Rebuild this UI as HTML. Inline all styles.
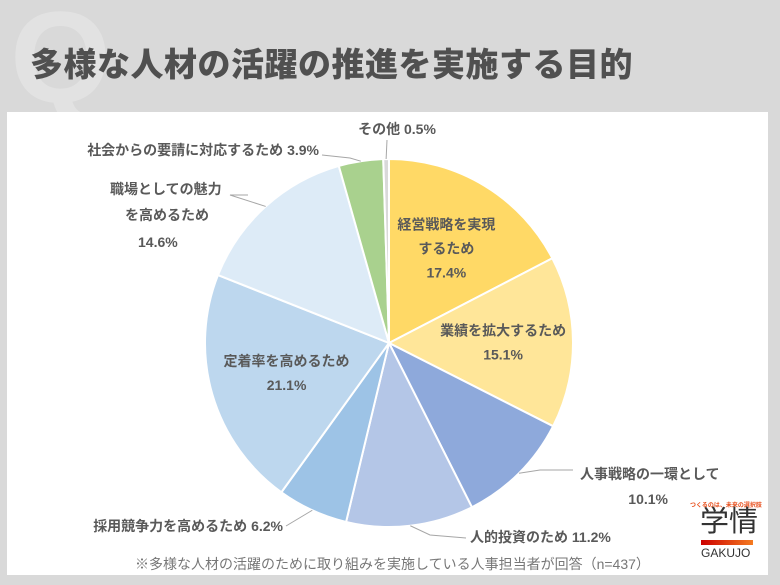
<!DOCTYPE html>
<html><head><meta charset="utf-8"><style>
body{margin:0;width:780px;height:585px;background:#d9d9d9;overflow:hidden;font-family:"Liberation Sans","Noto Sans CJK JP",sans-serif;position:relative}
.q{position:absolute;left:10px;top:-8px;font-size:130px;font-weight:bold;color:#e2e2e2;line-height:1}
.title{position:absolute;left:30px;top:38px;font-size:33px;font-weight:900;color:#505050;letter-spacing:0.5px}
.panel{position:absolute;left:7px;top:112px;width:761px;height:463px;background:#fff}
</style></head><body>
<div class="q">Q</div>
<div class="title">多様な人材の活躍の推進を実施する目的</div>
<div class="panel"></div>
<svg id="c" width="780" height="585" style="position:absolute;left:0;top:0"></svg>
<div style="position:absolute;left:690px;top:500px;font-size:6px;color:#e8501e;font-weight:bold">つくるのは、未来の選択肢</div>
<div style="position:absolute;left:700px;top:505px;font-size:29px;line-height:34px;color:#333">学情</div>
<div style="position:absolute;left:701px;top:540px;width:52px;height:5px;background:linear-gradient(90deg,#c00,#f47b20)"></div>
<div style="position:absolute;left:701px;top:546px;font-size:12px;color:#333">GAKUJO</div>
<div style="position:absolute;left:135px;top:554px;font-size:14px;color:#777">※多様な人材の活躍のために取り組みを実施している人事担当者が回答（n=437）</div>
<script>
const labels=["経営戦略を実現|するため","業績を拡大するため","人事戦略の一環として","人的投資のため","採用競争力を高めるため","定着率を高めるため","職場としての魅力|を高めるため","社会からの要請に対応するため","その他"];
const values=[17.4,15.1,10.1,11.2,6.2,21.1,14.6,3.9,0.5];
const colors=["#ffd966","#ffe699","#8ea9db","#b4c6e7","#9dc3e6","#bdd7ee","#ddebf7","#a9d18e","#d9d9d9"];
const svg=document.getElementById('c');const NS="http://www.w3.org/2000/svg";
const cx=389,cy=343,r=184;
const total=values.reduce((a,b)=>a+b,0);
function pt(a,rr){return [cx+rr*Math.sin(a),cy-rr*Math.cos(a)];}
function txt(x,y,s,anchor,name){const t=document.createElementNS(NS,'text');t.setAttribute('x',x);t.setAttribute('y',y);t.setAttribute('text-anchor',anchor);t.setAttribute('font-size','14');t.setAttribute('font-weight','bold');t.setAttribute('fill','#595959');t.textContent=s;


svg.appendChild(t);}
function line(pts,name){const p=document.createElementNS(NS,'polyline');p.setAttribute('points',pts.map(q=>q.join(',')).join(' '));p.setAttribute('fill','none');p.setAttribute('stroke','#a6a6a6');


svg.appendChild(p);}
let acc=0;const mids=[];
values.forEach((v,i)=>{const a0=acc/total*2*Math.PI;acc+=v;const a1=acc/total*2*Math.PI;mids.push((a0+a1)/2);
const p0=pt(a0,r),p1=pt(a1,r);const large=(a1-a0)>Math.PI?1:0;
const path=document.createElementNS(NS,'path');
path.setAttribute('d',`M${cx},${cy} L${p0[0]},${p0[1]} A${r},${r} 0 ${large} 1 ${p1[0]},${p1[1]} Z`);
path.setAttribute('fill',colors[i]);path.setAttribute('stroke','#fff');path.setAttribute('stroke-width','2');


svg.appendChild(path);});
const pct=v=>v.toFixed(1)+'%';
[[0,0.6],[1,0.62],[5,0.58]].forEach(([i,f])=>{const p=pt(mids[i],r*f);const parts=labels[i].split('|');const lines=[...parts,pct(values[i])];
const y0=p[1]-(lines.length-1)*12;lines.forEach((s,k)=>txt(p[0],y0+k*24+5,s,'middle','label-'+i+'-'+k));});
txt(580,479,labels[2],'start','label-2');txt(668,504,pct(values[2]),'end','value-2');
line([pt(mids[2],r),[540,470],[573,470]],'leader-2');
txt(470,542,labels[3]+' '+pct(values[3]),'start','label-3');
line([pt(mids[3],r),[430,535],[466,538]],'leader-3');
txt(283,531,labels[4]+' '+pct(values[4]),'end','label-4');
line([pt(mids[4],r),[286,526]],'leader-4');
txt(110,194,'職場としての魅力','start','label-6a');txt(125,220,'を高めるため','start','label-6b');txt(138,247,pct(values[6]),'start','label-6c');
line([pt(mids[6],r),[230,195],[248,195]],'leader-6');
txt(319,155,labels[7]+' '+pct(values[7]),'end','label-7');
line([pt(mids[7],r),[350,158],[322,155]],'leader-7');
txt(397,134,labels[8]+' '+pct(values[8]),'middle','label-8');
line([pt(mids[8],r),[387,140]],'leader-8');
</script>
</body></html>
